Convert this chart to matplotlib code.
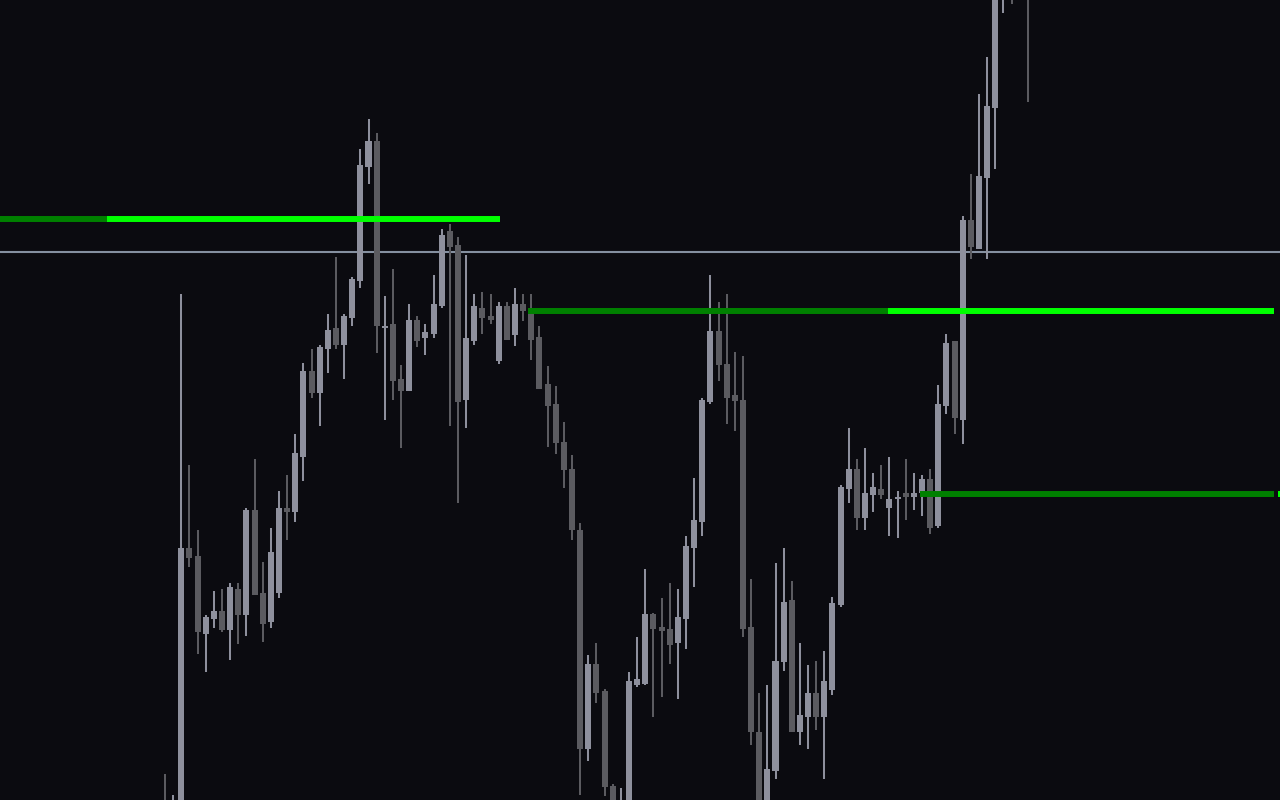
import matplotlib
matplotlib.use("Agg")
import matplotlib.pyplot as plt
import numpy as np

# Candle data (price units), one entry per bar
opens = [-5, -40, -30, 252, 244, 166, 181, 189, 170, 211, 185, 290, 207, 178, 207, 292, 288, 343, 429, 407,
         451, 472, 455, 482, 519, 633, 659, 472, 476, 421, 409, 480, 462, 466, 494, 569, 555, 400, 459, 492,
         484, 439, 494, 465, 496, 490, 463, 416, 396, 358, 331, 270, 51, 136, 109, 14, -15, -10, 115, 116,
         186, 173, 171, 157, 181, 252, 278, 398, 469, 436, 405, 400, 173, 68, -10, 29, 138, 200, 68, 83,
         107, 83, 110, 195, 311, 331, 282, 305, 311, 292, 301, 307, 303, 307, 321, 274, 394, 459, 380, 580,
         551, 622, 692, 815, 840, 820, 830]
highs = [26, 5, 506, 335, 270, 185, 209, 211, 217, 217, 292, 341, 238, 272, 309, 325, 366, 437, 451, 455,
         486, 543, 486, 523, 651, 681, 667, 504, 531, 435, 496, 484, 476, 525, 571, 576, 563, 545, 506, 508,
         506, 498, 498, 512, 506, 506, 474, 434, 414, 378, 345, 277, 145, 157, 111, 16, 12, 128, 163, 231,
         187, 202, 217, 211, 264, 322, 402, 525, 498, 506, 448, 444, 221, 107, 115, 237, 252, 219, 157, 135,
         139, 149, 203, 315, 372, 341, 352, 327, 335, 343, 309, 341, 327, 325, 331, 415, 466, 459, 584, 626,
         706, 743, 830, 860, 870, 890, 850]
lows = [-40, -50, -40, 233, 146, 128, 172, 168, 140, 156, 164, 205, 158, 172, 202, 260, 278, 319, 402, 374,
        427, 451, 421, 474, 512, 616, 447, 380, 400, 352, 409, 453, 445, 462, 492, 374, 297, 372, 455, 466,
        476, 436, 460, 454, 479, 440, 411, 353, 346, 312, 260, 5, 39, 97, 4, -12, -20, -15, 113, 115,
        83, 103, 136, 101, 151, 213, 264, 396, 419, 376, 369, 163, 55, -20, -15, 21, 129, 68, 55, 51,
        70, 21, 105, 193, 297, 270, 270, 288, 301, 264, 262, 280, 290, 284, 266, 272, 386, 366, 356, 541,
        551, 541, 631, 787, 796, 808, 698]
closes = [-30, -8, 252, 242, 168, 183, 189, 170, 213, 185, 290, 205, 176, 248, 292, 288, 347, 429, 407, 453,
          470, 455, 484, 521, 635, 659, 474, 474, 419, 409, 480, 459, 468, 496, 565, 553, 398, 462, 494, 482,
          480, 494, 460, 496, 489, 460, 411, 394, 357, 330, 270, 51, 136, 107, 13, -5, -3, 119, 121, 186,
          171, 169, 155, 183, 254, 280, 400, 469, 435, 402, 399, 171, 68, -10, 31, 139, 198, 68, 85, 107,
          83, 119, 197, 313, 331, 282, 307, 313, 305, 301, 303, 303, 307, 321, 272, 396, 457, 382, 580, 553,
          624, 694, 810, 840, 810, 860, 805]

# Horizontal level lines: (price, dark segment start/end, bright segment start/end) in bar index units
level_prices = [581, 489, 306]
dark_starts = [-20.3, 44.6, 92.75]
dark_ends = [-7.13, 88.8, 136.2]
bright_starts = [-7.13, 88.8, 136.7]
bright_ends = [41.15, 136.2, 137.0]
ref_price = 548  # thin grey reference line

BG = "#0b0b10"
UP = "#8e909d"
DOWN = "#5b5b60"
DARK_GREEN = "#008000"
LIME = "#00ff00"
GREY_LINE = "#8590a0"

fig = plt.figure(figsize=(12.8, 8), dpi=100, facecolor=BG)
ax = fig.add_axes([0, 0, 1, 1])
ax.set_facecolor(BG)

n = len(opens)
x = np.arange(n)
o = np.array(opens, float)
h = np.array(highs, float)
l = np.array(lows, float)
c = np.array(closes, float)
up = c >= o
colors = np.where(up, UP, DOWN)

# reference line under candles
ax.axhline(ref_price, color=GREY_LINE, lw=1.5, zorder=1)

# wicks
ax.vlines(x, l, h, colors=colors, lw=1.45, zorder=2)
# bodies
bottoms = np.minimum(o, c)
heights = np.maximum(np.abs(c - o), 2.0)
ax.bar(x, heights, bottom=bottoms, width=0.74, color=colors, edgecolor="none", zorder=3)

# level lines
for p, ds, de, bs, be in zip(level_prices, dark_starts, dark_ends, bright_starts, bright_ends):
    ax.plot([ds, de], [p, p], color=DARK_GREEN, lw=4.3, solid_capstyle="butt", zorder=4)
    ax.plot([bs, be], [p, p], color=LIME, lw=4.3, solid_capstyle="butt", zorder=4)

ax.set_xlim(-165 / 8.14, (1280 - 165) / 8.14)
ax.set_ylim(0, 800)
ax.axis("off")

fig.savefig("out.png", dpi=100, facecolor=BG)
